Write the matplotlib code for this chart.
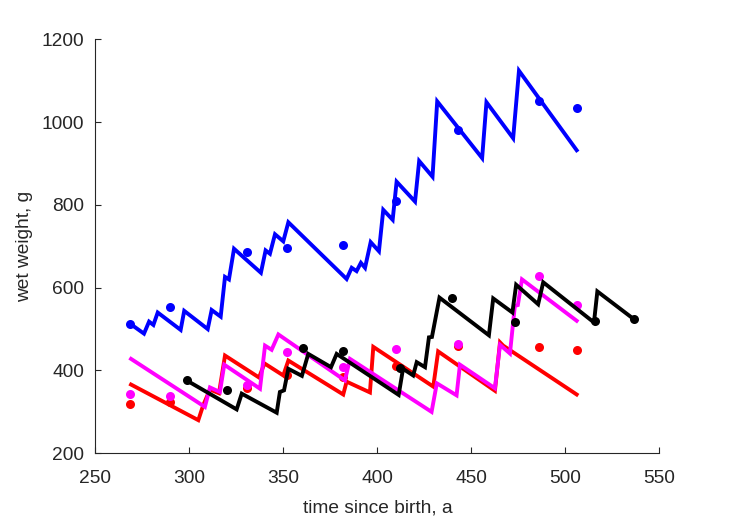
import matplotlib
matplotlib.use("Agg")
import matplotlib.pyplot as plt

# observation times (days)
t_obs = [268.6, 289.6, 330.6, 351.7, 381.8, 409.8, 443.0, 486.1, 506.0]
t_obs_black = [298.5, 319.8, 360.5, 381.8, 412.0, 439.9, 473.1, 515.7, 536.4]

# observed wet weights (g)
w_blue = [513, 553, 686, 697, 702, 810, 980, 1050, 1034]
w_red = [318, 324, 357, 388, 384, 412, 460, 456, 450]
w_magenta = [344, 338, 366, 444, 409, 452, 465, 628, 558]
w_black = [377, 352, 454, 446, 406, 576, 518, 520, 524]

# simulated trajectories
sim_blue_t = [268.4, 275.8, 278.5, 280.8, 283.1, 295.3, 297.2, 309.7, 311.8, 316.6,
              318.9, 321.0, 323.7, 338.0, 340.5, 342.8, 345.5, 349.9, 352.6, 383.6,
              386.3, 388.9, 391.2, 393.4, 396.4, 400.8, 403.1, 408.1, 410.2, 420.0,
              422.2, 429.3, 431.8, 455.7, 458.0, 472.2, 475.3, 506.0]
sim_blue_w = [513, 489, 518, 510, 540, 498, 544, 500, 546, 530,
              626, 620, 694, 636, 690, 682, 729, 712, 758, 621,
              648, 640, 660, 648, 710, 688, 788, 764, 856, 808,
              906, 868, 1050, 913, 1048, 961, 1124, 932]

sim_red_t = [268.9, 304.7, 307.3, 310.9, 315.7, 318.9, 337.0, 339.9, 349.9, 352.6,
             381.8, 383.6, 396.0, 397.8, 429.7, 432.3, 462.5, 465.2, 466.9, 506.0]
sim_red_w = [366, 280, 316, 354, 345, 436, 383, 417, 388, 424,
             342, 373, 347, 457, 361, 446, 351, 468, 460, 342]

sim_magenta_t = [268.9, 308.2, 310.9, 316.2, 318.5, 337.5, 340.2, 343.7, 347.3, 382.7,
                 385.4, 428.8, 431.6, 442.1, 443.9, 462.5, 465.2, 470.5, 473.1, 474.7,
                 476.9, 506.0]
sim_magenta_w = [428, 312, 359, 348, 414, 356, 460, 450, 487, 376,
                 428, 300, 369, 340, 414, 357, 462, 441, 556, 558,
                 620, 520]

sim_black_t = [298.5, 325.1, 327.8, 346.4, 348.1, 350.3, 352.6, 359.8, 363.2, 375.3,
               378.3, 411.3, 413.6, 419.0, 420.9, 425.3, 427.4, 429.0, 433.0, 459.3,
               461.6, 471.8, 473.8, 485.5, 488.2, 515.2, 517.0, 536.4]
sim_black_w = [376, 306, 344, 298, 348, 352, 404, 387, 440, 408,
               440, 341, 404, 388, 420, 408, 480, 481, 576, 485,
               574, 540, 607, 560, 613, 516, 591, 524]

x_ticks = [250, 300, 350, 400, 450, 500, 550]
y_ticks = [200, 400, 600, 800, 1000, 1200]

plt.rcParams['font.family'] = ['Liberation Sans', 'DejaVu Sans']

fig = plt.figure(figsize=(7.29, 5.21), dpi=100)
ax = fig.add_axes([0.131, 0.130, 0.7735, 0.7946])

lw = 2.8
ms = 6.5
series = [
    (t_obs, w_blue, sim_blue_t, sim_blue_w, '#0000ff'),
    (t_obs, w_red, sim_red_t, sim_red_w, '#ff0000'),
    (t_obs, w_magenta, sim_magenta_t, sim_magenta_w, '#ff00ff'),
    (t_obs_black, w_black, sim_black_t, sim_black_w, '#000000'),
]
for to, wo, ts, ws, c in series:
    ax.plot(to, wo, 'o', color=c, markersize=ms, markeredgewidth=0, zorder=3)
    ax.plot(ts, ws, '-', color=c, linewidth=lw, solid_joinstyle='miter', zorder=3)

ax.set_xlim(250, 550)
ax.set_ylim(200, 1200)
ax.set_xticks(x_ticks)
ax.set_yticks(y_ticks)

for s in ['top', 'right']:
    ax.spines[s].set_visible(False)
for s in ['left', 'bottom']:
    ax.spines[s].set_color('#262626')
    ax.spines[s].set_linewidth(0.8)

ax.tick_params(direction='in', length=4.3, width=0.8, colors='#262626',
               labelsize=13.8, labelcolor='#262626')
ax.tick_params(axis='x', pad=12)
ax.tick_params(axis='y', pad=8)

ax.set_xlabel('time since birth, a', fontsize=13.8, color='#262626', labelpad=9)
ax.set_ylabel('wet weight, g', fontsize=13.8, color='#262626', labelpad=6.5)

fig.savefig('out.png', dpi=100)
